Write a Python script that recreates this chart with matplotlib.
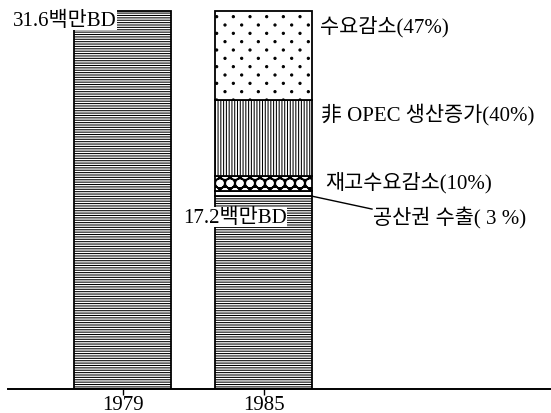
import matplotlib
matplotlib.use("Agg")
import numpy as np
import matplotlib.pyplot as plt
import matplotlib.hatch as mhatch
from matplotlib.path import Path

# ---- data ----
years = ["1979", "1985"]
total_1979 = 31.6
base_1985 = 16.1            # drawn height of the 1985 base segment
seg_names = ["공산권 수출( 3 %)", "재고수요감소(10%)", "非 OPEC 생산증가(40%)", "수요감소(47%)"]
seg_values = [0.45, 1.25, 6.35, 7.45]   # stacked on top of base_1985, bottom to top
label_1979 = "31.6백만BD"
label_1985 = "17.2백만BD"


# ---- custom lattice hatches (dots and honeycomb rings) ----
class _Lattice(mhatch.HatchPatternBase):
    char = "."
    nx, ny = 6, 12
    size = 0.012
    filled = True

    def __init__(self, hatch, density):
        self.n = hatch.count(self.char)
        circ = Path.unit_circle()
        self.sv = circ.vertices
        self.sc = circ.codes
        if self.n == 0:
            self.num_vertices = 0
            return
        nx, ny = self.nx * self.n, self.ny * self.n
        pts = []
        for r in range(ny + 1):
            if r % 2 == 0:
                xs = np.linspace(0, 1, nx + 1)
            else:
                xs = (np.arange(nx) + 0.5) / nx
            for x in xs:
                pts.append((x, r / ny))
        self.pts = pts
        self.num_vertices = len(pts) * len(self.sv) * (1 if self.filled else 2)

    def set_vertices_and_codes(self, vertices, codes):
        sv = self.sv * self.size
        sc = self.sc
        if not self.filled:
            sv = np.concatenate([sv, sv[::-1] * 0.88])
            sc = np.concatenate([sc, sc])
        vp = [sv + p for p in self.pts]
        cp = [sc for _ in self.pts]
        np.concatenate(vp, out=vertices)
        np.concatenate(cp, out=codes)


class _Dots(_Lattice):
    char = "."
    nx, ny = 6, 12
    size = 0.011
    filled = True


class _Rings(_Lattice):
    char = "O"
    nx, ny = 10, 12
    size = 0.05
    filled = False


mhatch._hatch_types = [t for t in mhatch._hatch_types
                       if t not in (mhatch.SmallFilledCircles, mhatch.LargeCircles)] + [_Dots, _Rings]

seg_hatches = ["", "O", "||||||", "."]

FAM = ["Liberation Serif", "Noto Sans CJK KR"]
plt.rcParams["hatch.linewidth"] = 0.75
plt.rcParams["hatch.color"] = "black"

W, H = 551, 414
BASE_PX = 389.5
fig = plt.figure(figsize=(W / 100, H / 100), dpi=100)
ax = fig.add_axes([8 / W, (H - BASE_PX) / H, (W - 8) / W, BASE_PX / H])
ppu = (BASE_PX - 12) / total_1979
ax.set_ylim(0, BASE_PX / ppu)
xpx = 141.0
ax.set_xlim(-(122.5 - 8) / xpx, (551 - 122.5) / xpx)
bw = 97 / xpx

x0, x1 = 0, 1
ax.bar(x0, total_1979, width=bw, color="white", edgecolor="black", hatch="-------", linewidth=1.3)
ax.bar(x1, base_1985, width=bw, color="white", edgecolor="black", hatch="-------", linewidth=1.3)
bottom = base_1985
tops = []
for v, h in zip(seg_values, seg_hatches):
    ax.bar(x1, v, bottom=bottom, width=bw, color="white", edgecolor="black", hatch=h, linewidth=1.3)
    tops.append((bottom, bottom + v))
    bottom += v

for s in ["left", "right", "top"]:
    ax.spines[s].set_visible(False)
ax.spines["bottom"].set_linewidth(1.4)
ax.set_yticks([])
ax.set_xticks([x0, x1])
ax.set_xticklabels(years, family=FAM, fontsize=15)
ax.tick_params(axis="x", direction="out", length=4, width=1, pad=1)

FS = 15
# value labels with white background
ax.text(x0 - bw / 2 + 43 / xpx, total_1979 - 0.75, label_1979, family=FAM, fontsize=FS,
        ha="right", va="center", bbox=dict(facecolor="white", edgecolor="none", pad=0.3))
ax.text(x1 - bw / 2 + 72 / xpx, base_1985 - 1.75, label_1985, family=FAM, fontsize=FS,
        ha="right", va="center", bbox=dict(facecolor="white", edgecolor="none", pad=0.3))

# segment labels
xr = x1 + bw / 2
ax.text(xr + 8 / xpx, tops[3][1] - 1.2, seg_names[3], family=FAM, fontsize=FS, ha="left", va="center")
ax.text(xr + 9 / xpx, tops[2][1] - 1.15, seg_names[2], family=FAM, fontsize=FS, ha="left", va="center")
ax.text(xr + 13 / xpx, tops[1][1] - 0.5, seg_names[1], family=FAM, fontsize=FS, ha="left", va="center")
ly = tops[0][0]
ax.plot([xr, xr + 60 / xpx], [ly, ly - 1.08], color="black", lw=1.0)
ax.text(xr + 61 / xpx, ly - 1.75, seg_names[0], family=FAM, fontsize=FS, ha="left", va="center")

fig.savefig("out.png", dpi=100)
